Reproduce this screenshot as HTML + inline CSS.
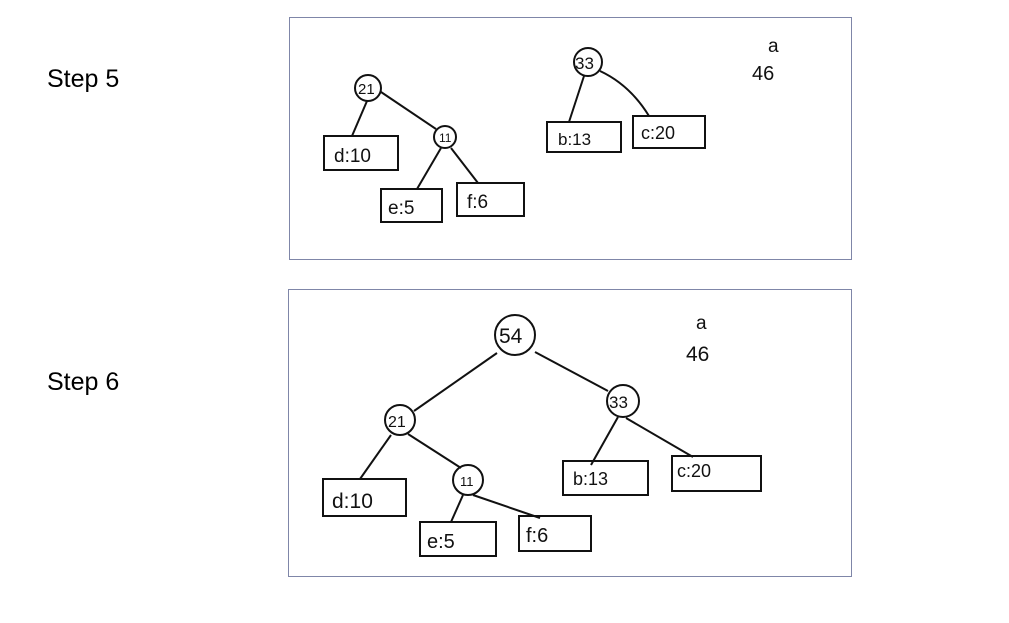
<!DOCTYPE html>
<html><head><meta charset="utf-8"><style>
html,body{margin:0;padding:0;background:#fff;}
svg{display:block;}
text{font-family:"Liberation Sans",sans-serif;}
.h{font-size:18px;fill:#111;}
</style></head><body>
<svg width="1009" height="623" viewBox="0 0 1009 623" xmlns="http://www.w3.org/2000/svg">
<rect x="0" y="0" width="1009" height="623" fill="#fff"/>
<text x="47" y="87" font-size="25" fill="#000">Step 5</text>
<text x="47" y="390" font-size="25" fill="#000">Step 6</text>
<rect x="289.5" y="17.5" width="562" height="242" fill="#fff" stroke="#7f86a8" stroke-width="1"/>
<rect x="288.5" y="289.5" width="563" height="287" fill="#fff" stroke="#7f86a8" stroke-width="1"/>
<g stroke="#111" stroke-width="2" fill="none">
<circle cx="368" cy="88" r="13"/>
<circle cx="445" cy="137" r="11"/>
<circle cx="588" cy="62" r="14"/>
<rect x="324" y="136" width="74" height="34"/>
<rect x="381" y="189" width="61" height="33"/>
<rect x="457" y="183" width="67" height="33"/>
<rect x="547" y="122" width="74" height="30"/>
<rect x="633" y="116" width="72" height="32"/>
<line x1="367" y1="101" x2="352" y2="136"/>
<line x1="381" y1="92" x2="436" y2="129"/>
<line x1="441" y1="148" x2="417" y2="189"/>
<line x1="451" y1="148" x2="478" y2="183"/>
<line x1="584" y1="76" x2="569" y2="122"/>
<path d="M600 71 Q630 85 649 116"/>
<circle cx="515" cy="335" r="20"/>
<circle cx="623" cy="401" r="16"/>
<circle cx="400" cy="420" r="15"/>
<circle cx="468" cy="480" r="15"/>
<rect x="323" y="479" width="83" height="37"/>
<rect x="420" y="522" width="76" height="34"/>
<rect x="519" y="516" width="72" height="35"/>
<rect x="563" y="461" width="85" height="34"/>
<rect x="672" y="456" width="89" height="35"/>
<line x1="497" y1="353" x2="414" y2="411"/>
<line x1="535" y1="352" x2="608" y2="391"/>
<line x1="391" y1="435" x2="360" y2="479"/>
<line x1="408" y1="434" x2="461" y2="468"/>
<line x1="463" y1="495" x2="451" y2="522"/>
<line x1="473" y1="495" x2="540" y2="518"/>
<line x1="618" y1="417" x2="591" y2="465"/>
<line x1="626" y1="418" x2="693" y2="457"/>
</g>
<g class="h">
<text x="358" y="94" font-size="15">21</text>
<text x="439" y="142" font-size="12">11</text>
<text x="575" y="69" font-size="17">33</text>
<text x="334" y="162" font-size="19">d:10</text>
<text x="388" y="214" font-size="19">e:5</text>
<text x="467" y="208" font-size="19">f:6</text>
<text x="558" y="145" font-size="17">b:13</text>
<text x="641" y="139" font-size="18">c:20</text>
<text x="768" y="52" font-size="19">a</text>
<text x="752" y="80" font-size="20">46</text>
<text x="499" y="343" font-size="21">54</text>
<text x="609" y="408" font-size="17">33</text>
<text x="388" y="427" font-size="16">21</text>
<text x="460" y="486" font-size="13">11</text>
<text x="332" y="508" font-size="21">d:10</text>
<text x="427" y="548" font-size="20">e:5</text>
<text x="526" y="542" font-size="20">f:6</text>
<text x="573" y="485" font-size="18">b:13</text>
<text x="677" y="477" font-size="18">c:20</text>
<text x="696" y="329" font-size="19">a</text>
<text x="686" y="361" font-size="21">46</text>
</g>
</svg>
</body></html>
